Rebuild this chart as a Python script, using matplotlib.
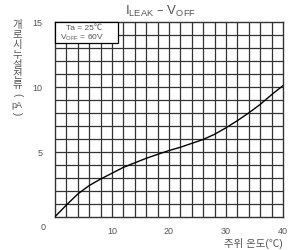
"""
Leakage current vs. ambient temperature (I_LEAK - V_OFF).
Saves out.png at about 290x251 px.
"""

import matplotlib
matplotlib.use("Agg")
import matplotlib.pyplot as plt
from matplotlib.patches import Rectangle

plt.rcParams["font.family"] = ["Liberation Sans", "Noto Sans CJK KR", "DejaVu Sans"]

# curve
temp_c = [0, 2, 4, 6, 8, 10, 12, 14, 16, 18, 20, 22, 24, 26, 28, 30, 32, 34, 36, 38, 40]
leak_pa = [0, 0.9, 1.75, 2.4, 2.9, 3.35, 3.8, 4.15, 4.5, 4.8, 5.1, 5.35, 5.65, 5.95,
           6.35, 6.85, 7.4, 8.0, 8.65, 9.4, 10.1]

x_ticks = [10, 20, 30, 40]
y_ticks = [5, 10, 15]
ylabel_chars = ["개", "로", "시", "누", "설", "전", "류"]

TEXT = "#555555"
GRID = "#333333"

fig = plt.figure(figsize=(2.9, 2.51), dpi=100)
ax = fig.add_axes([55 / 290, 1 - 217.7 / 251, 228 / 290, 194.7 / 251])

ax.set_xlim(0, 40)
ax.set_ylim(0, 15)
ax.set_xticks(x_ticks)
ax.set_yticks(y_ticks)
# 2 degC x 1 pA grid, drawn as plain lines so none get dropped
for gx in range(2, 40, 2):
    ax.axvline(gx, color=GRID, linewidth=0.9, zorder=1)
for gy in range(1, 15):
    ax.axhline(gy, color=GRID, linewidth=0.9, zorder=1)
ax.tick_params(which="both", length=0, labelsize=6.5, labelcolor=TEXT)
ax.tick_params(axis="x", pad=7)
ax.tick_params(axis="y", pad=9)
for s in ax.spines.values():
    s.set_color(GRID)
    s.set_linewidth(1.0)

ax.plot(temp_c, leak_pa, color="black", linewidth=1.0, zorder=3)

# condition box in the top-left corner
ax.add_patch(Rectangle((0, 13.35), 11.1, 1.65, facecolor="white",
                       edgecolor="black", linewidth=0.9, zorder=4, clip_on=False))
ax.text(2.0, 14.55, "Ta = 25\u2103", fontsize=6, color=TEXT, va="center", zorder=5)
ax.text(0.8, 13.85, r"V$_{\mathregular{OFF}}$ = 60V", fontsize=6, color=TEXT,
        va="center", zorder=5)

# origin label sits in the corner
fig.text(43 / 290, 1 - 228 / 251, "0", fontsize=6.5, color=TEXT, ha="center", va="center")

fig.text(160 / 290, 1 - 11 / 251,
         "I$_{\\mathregular{LEAK}}$ \u2013 V$_{\\mathregular{OFF}}$",
         fontsize=9.5, color=TEXT, ha="center", va="center")

fig.text(283 / 290, 1 - 244 / 251, "주위 온도(\u2103)", fontsize=7.5, color=TEXT,
         ha="right", va="center")

# vertical Korean y label
for i, ch in enumerate(ylabel_chars):
    fig.text(17 / 290, 1 - (25 + 10 * i) / 251, ch, fontsize=7.5, color=TEXT,
             ha="center", va="center")
fig.text(17 / 290, 1 - 95 / 251, "(", fontsize=7, color=TEXT, ha="center",
         va="center", rotation=-90)
fig.text(17 / 290, 1 - 105 / 251, "pA", fontsize=6.5, color=TEXT, ha="center", va="center")
fig.text(17 / 290, 1 - 114 / 251, ")", fontsize=7, color=TEXT, ha="center",
         va="center", rotation=-90)

fig.savefig("out.png", dpi=100)
